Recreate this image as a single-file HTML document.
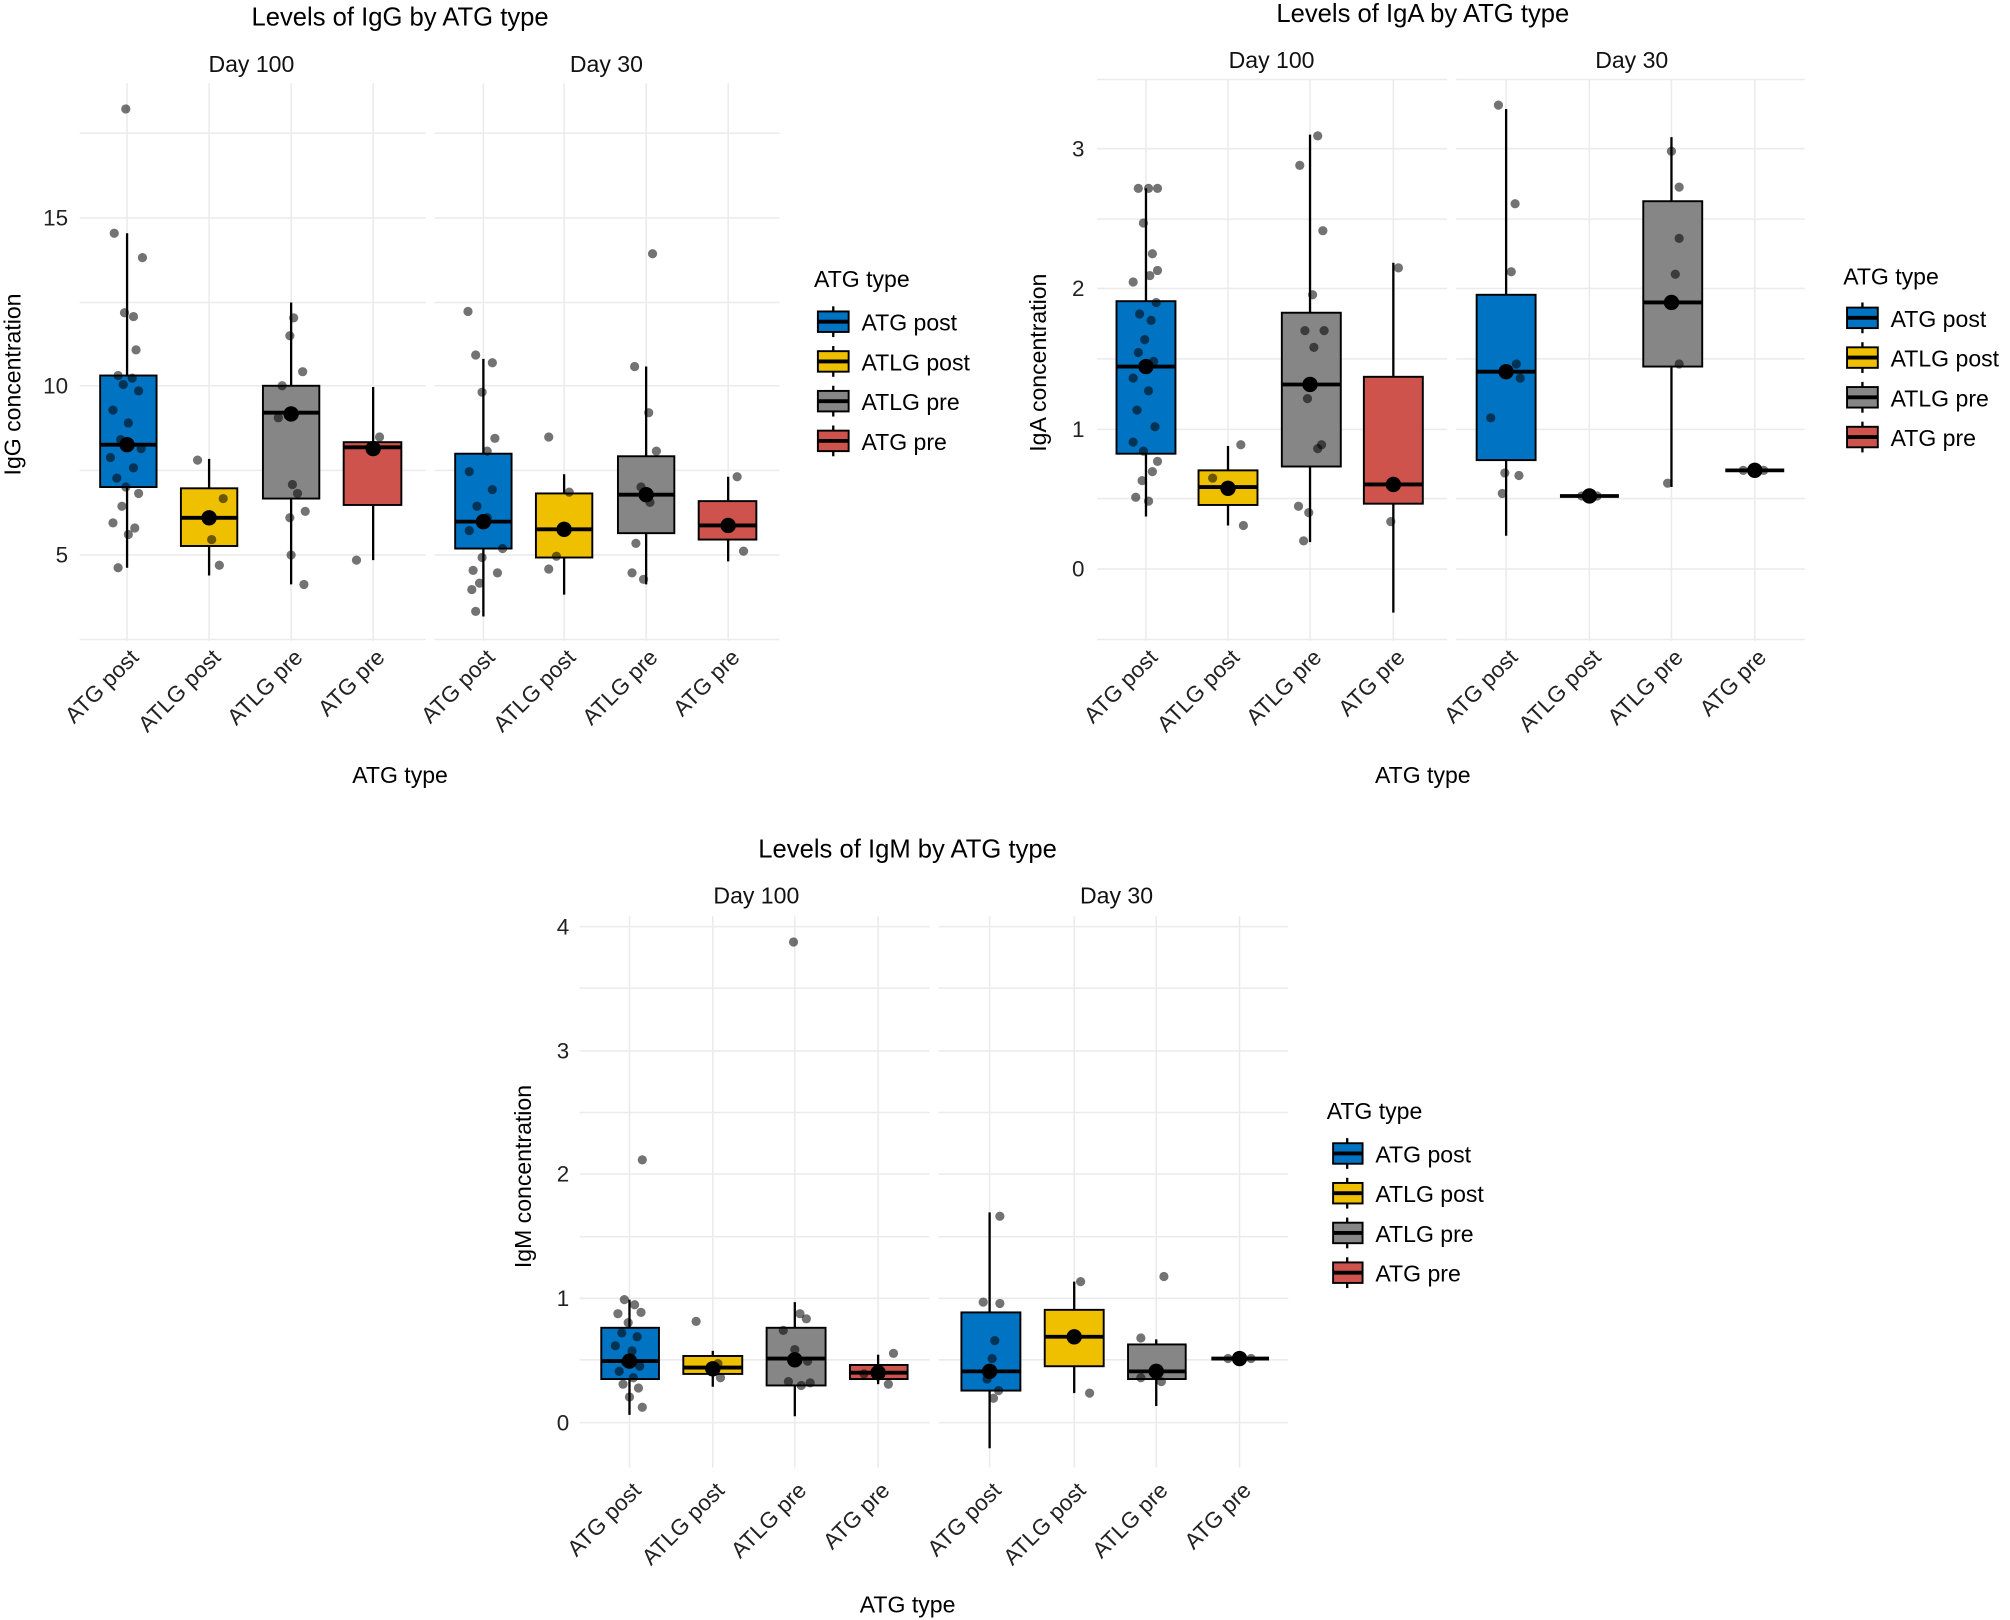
<!DOCTYPE html>
<html><head><meta charset="utf-8"><style>
html,body{margin:0;padding:0;background:#fff}
svg{display:block;font-family:"Liberation Sans",Arial,sans-serif}
.g{stroke:#ebebeb;stroke-width:1.2}
.t{font-size:20px;fill:#000}
.f{font-size:18px;fill:#111}
.k{font-size:17.5px;fill:#222}
.a{font-size:18px;fill:#000}
.l{font-size:18px;fill:#000}
.b{stroke:#000;stroke-width:1.5}
.m{stroke:#000;stroke-width:3}
.w{stroke:#000;stroke-width:1.8}
.p circle{fill:#000;fill-opacity:.55;r:3.6}
</style></head><body>
<svg width="2010" height="1620" viewBox="0 0 1568 1264" xmlns="http://www.w3.org/2000/svg">
<!-- ================= IgG ================= -->
<g>
<g class="g">
<line x1="62" x2="332" y1="104" y2="104"/><line x1="62" x2="332" y1="236" y2="236"/><line x1="62" x2="332" y1="367" y2="367"/><line x1="62" x2="332" y1="499" y2="499"/>
<line x1="62" x2="332" y1="170" y2="170"/><line x1="62" x2="332" y1="301" y2="301"/><line x1="62" x2="332" y1="433" y2="433"/>
<line x1="99" x2="99" y1="65" y2="500"/><line x1="163" x2="163" y1="65" y2="500"/><line x1="227" x2="227" y1="65" y2="500"/><line x1="291" x2="291" y1="65" y2="500"/>
<line x1="339" x2="608" y1="104" y2="104"/><line x1="339" x2="608" y1="236" y2="236"/><line x1="339" x2="608" y1="367" y2="367"/><line x1="339" x2="608" y1="499" y2="499"/>
<line x1="339" x2="608" y1="170" y2="170"/><line x1="339" x2="608" y1="301" y2="301"/><line x1="339" x2="608" y1="433" y2="433"/>
<line x1="377" x2="377" y1="65" y2="500"/><line x1="440" x2="440" y1="65" y2="500"/><line x1="504" x2="504" y1="65" y2="500"/><line x1="568" x2="568" y1="65" y2="500"/>
</g>
<text class="t" x="312" y="20" text-anchor="middle">Levels of IgG by ATG type</text>
<text class="f" x="196" y="56" text-anchor="middle">Day 100</text>
<text class="f" x="473" y="56" text-anchor="middle">Day 30</text>
<text class="k" x="53" y="176" text-anchor="end">15</text>
<text class="k" x="53" y="307" text-anchor="end">10</text>
<text class="k" x="53" y="439" text-anchor="end">5</text>
<text class="a" transform="translate(16,300) rotate(-90)" text-anchor="middle">IgG concentration</text>
<text class="a" x="312" y="611" text-anchor="middle">ATG type</text>
<g class="k">
<text transform="translate(109,514) rotate(-45)" text-anchor="end">ATG post</text>
<text transform="translate(173,514) rotate(-45)" text-anchor="end">ATLG post</text>
<text transform="translate(237,514) rotate(-45)" text-anchor="end">ATLG pre</text>
<text transform="translate(301,514) rotate(-45)" text-anchor="end">ATG pre</text>
<text transform="translate(387,514) rotate(-45)" text-anchor="end">ATG post</text>
<text transform="translate(450,514) rotate(-45)" text-anchor="end">ATLG post</text>
<text transform="translate(514,514) rotate(-45)" text-anchor="end">ATLG pre</text>
<text transform="translate(578,514) rotate(-45)" text-anchor="end">ATG pre</text>
</g>
<line class="w" x1="99" x2="99" y1="182" y2="443"/><rect class="b" x="78" y="293" width="44" height="87" fill="#0073C2"/><line class="m" x1="78" x2="122" y1="347" y2="347"/>
<line class="w" x1="163" x2="163" y1="358" y2="449"/><rect class="b" x="141" y="381" width="44" height="45" fill="#EFC000"/><line class="m" x1="141" x2="185" y1="404" y2="404"/>
<line class="w" x1="227" x2="227" y1="236" y2="456"/><rect class="b" x="205" y="301" width="44" height="88" fill="#868686"/><line class="m" x1="205" x2="249" y1="322" y2="322"/>
<line class="w" x1="291" x2="291" y1="302" y2="437"/><rect class="b" x="268" y="345" width="45" height="49" fill="#CD534C"/><line class="m" x1="268" x2="313" y1="349" y2="349"/>
<line class="w" x1="377" x2="377" y1="280" y2="481"/><rect class="b" x="355" y="354" width="44" height="74" fill="#0073C2"/><line class="m" x1="355" x2="399" y1="407" y2="407"/>
<line class="w" x1="440" x2="440" y1="370" y2="464"/><rect class="b" x="418" y="385" width="44" height="50" fill="#EFC000"/><line class="m" x1="418" x2="462" y1="413" y2="413"/>
<line class="w" x1="504" x2="504" y1="286" y2="456"/><rect class="b" x="482" y="356" width="44" height="60" fill="#868686"/><line class="m" x1="482" x2="526" y1="386" y2="386"/>
<line class="w" x1="568" x2="568" y1="372" y2="438"/><rect class="b" x="545" y="391" width="45" height="30" fill="#CD534C"/><line class="m" x1="545" x2="590" y1="410" y2="410"/>
<g class="p">
<circle cx="98" cy="85"/><circle cx="89" cy="182"/><circle cx="111" cy="201"/><circle cx="97" cy="244"/><circle cx="104" cy="247"/><circle cx="106" cy="273"/><circle cx="92" cy="293"/><circle cx="103" cy="295"/><circle cx="96" cy="300"/><circle cx="108" cy="305"/><circle cx="88" cy="320"/><circle cx="100" cy="330"/><circle cx="94" cy="343"/><circle cx="110" cy="350"/><circle cx="86" cy="357"/><circle cx="104" cy="365"/><circle cx="91" cy="373"/><circle cx="98" cy="380"/><circle cx="108" cy="385"/><circle cx="95" cy="395"/><circle cx="88" cy="408"/><circle cx="105" cy="412"/><circle cx="100" cy="417"/><circle cx="92" cy="443"/>
<circle cx="154" cy="359"/><circle cx="174" cy="389"/><circle cx="165" cy="421"/><circle cx="171" cy="441"/>
<circle cx="229" cy="248"/><circle cx="226" cy="262"/><circle cx="236" cy="290"/><circle cx="220" cy="301"/><circle cx="217" cy="326"/><circle cx="228" cy="378"/><circle cx="232" cy="385"/><circle cx="238" cy="399"/><circle cx="226" cy="404"/><circle cx="227" cy="433"/><circle cx="237" cy="456"/>
<circle cx="296" cy="341"/><circle cx="278" cy="437"/>
<circle cx="365" cy="243"/><circle cx="371" cy="277"/><circle cx="384" cy="283"/><circle cx="376" cy="306"/><circle cx="386" cy="342"/><circle cx="380" cy="352"/><circle cx="366" cy="368"/><circle cx="384" cy="382"/><circle cx="372" cy="395"/><circle cx="380" cy="404"/><circle cx="366" cy="414"/><circle cx="392" cy="428"/><circle cx="376" cy="435"/><circle cx="369" cy="445"/><circle cx="388" cy="447"/><circle cx="374" cy="455"/><circle cx="368" cy="460"/><circle cx="371" cy="477"/>
<circle cx="428" cy="341"/><circle cx="444" cy="384"/><circle cx="434" cy="434"/><circle cx="428" cy="444"/>
<circle cx="509" cy="198"/><circle cx="495" cy="286"/><circle cx="506" cy="322"/><circle cx="512" cy="352"/><circle cx="500" cy="380"/><circle cx="507" cy="392"/><circle cx="496" cy="424"/><circle cx="493" cy="447"/><circle cx="502" cy="452"/>
<circle cx="575" cy="372"/><circle cx="580" cy="430"/>
</g>
<g fill="#000"><circle cx="99" cy="347" r="6"/><circle cx="163" cy="404" r="6"/><circle cx="227" cy="323" r="6"/><circle cx="291" cy="350" r="6"/><circle cx="377" cy="407" r="6"/><circle cx="440" cy="413" r="6"/><circle cx="504" cy="386" r="6"/><circle cx="568" cy="410" r="6"/></g>
<text class="l" x="635" y="224">ATG type</text>
<g class="w"><line x1="650" x2="650" y1="239" y2="263"/><line x1="650" x2="650" y1="270" y2="294"/><line x1="650" x2="650" y1="301" y2="325"/><line x1="650" x2="650" y1="332" y2="356"/></g>
<rect class="b" x="638" y="243" width="24" height="16" fill="#0073C2"/><line class="m" x1="638" x2="662" y1="251" y2="251"/>
<rect class="b" x="638" y="274" width="24" height="16" fill="#EFC000"/><line class="m" x1="638" x2="662" y1="282" y2="282"/>
<rect class="b" x="638" y="305" width="24" height="16" fill="#868686"/><line class="m" x1="638" x2="662" y1="313" y2="313"/>
<rect class="b" x="638" y="336" width="24" height="16" fill="#CD534C"/><line class="m" x1="638" x2="662" y1="344" y2="344"/>
<text class="l" x="672" y="258">ATG post</text><text class="l" x="672" y="289">ATLG post</text><text class="l" x="672" y="320">ATLG pre</text><text class="l" x="672" y="351">ATG pre</text>
</g>

<!-- ================= IgA ================= -->
<g>
<g class="g">
<line x1="856" x2="1129" y1="116" y2="116"/><line x1="856" x2="1129" y1="225" y2="225"/><line x1="856" x2="1129" y1="335" y2="335"/><line x1="856" x2="1129" y1="444" y2="444"/>
<line x1="856" x2="1129" y1="171" y2="171"/><line x1="856" x2="1129" y1="280" y2="280"/><line x1="856" x2="1129" y1="389" y2="389"/><line x1="856" x2="1129" y1="499" y2="499"/><line x1="856" x2="1129" y1="62" y2="62"/>
<line x1="894" x2="894" y1="62" y2="500"/><line x1="958" x2="958" y1="62" y2="500"/><line x1="1022" x2="1022" y1="62" y2="500"/><line x1="1087" x2="1087" y1="62" y2="500"/>
<line x1="1136" x2="1408" y1="116" y2="116"/><line x1="1136" x2="1408" y1="225" y2="225"/><line x1="1136" x2="1408" y1="335" y2="335"/><line x1="1136" x2="1408" y1="444" y2="444"/>
<line x1="1136" x2="1408" y1="171" y2="171"/><line x1="1136" x2="1408" y1="280" y2="280"/><line x1="1136" x2="1408" y1="389" y2="389"/><line x1="1136" x2="1408" y1="499" y2="499"/><line x1="1136" x2="1408" y1="62" y2="62"/>
<line x1="1175" x2="1175" y1="62" y2="500"/><line x1="1240" x2="1240" y1="62" y2="500"/><line x1="1304" x2="1304" y1="62" y2="500"/><line x1="1369" x2="1369" y1="62" y2="500"/>
</g>
<text class="t" x="1110" y="17" text-anchor="middle">Levels of IgA by ATG type</text>
<text class="f" x="992" y="53" text-anchor="middle">Day 100</text>
<text class="f" x="1273" y="53" text-anchor="middle">Day 30</text>
<text class="k" x="846" y="122" text-anchor="end">3</text>
<text class="k" x="846" y="231" text-anchor="end">2</text>
<text class="k" x="846" y="341" text-anchor="end">1</text>
<text class="k" x="846" y="450" text-anchor="end">0</text>
<text class="a" transform="translate(816,283) rotate(-90)" text-anchor="middle">IgA concentration</text>
<text class="a" x="1110" y="611" text-anchor="middle">ATG type</text>
<g class="k">
<text transform="translate(904,514) rotate(-45)" text-anchor="end">ATG post</text>
<text transform="translate(968,514) rotate(-45)" text-anchor="end">ATLG post</text>
<text transform="translate(1032,514) rotate(-45)" text-anchor="end">ATLG pre</text>
<text transform="translate(1097,514) rotate(-45)" text-anchor="end">ATG pre</text>
<text transform="translate(1185,514) rotate(-45)" text-anchor="end">ATG post</text>
<text transform="translate(1250,514) rotate(-45)" text-anchor="end">ATLG post</text>
<text transform="translate(1314,514) rotate(-45)" text-anchor="end">ATLG pre</text>
<text transform="translate(1379,514) rotate(-45)" text-anchor="end">ATG pre</text>
</g>
<line class="w" x1="894" x2="894" y1="147" y2="403"/><rect class="b" x="871" y="235" width="46" height="119" fill="#0073C2"/><line class="m" x1="871" x2="917" y1="286" y2="286"/>
<line class="w" x1="958" x2="958" y1="348" y2="410"/><rect class="b" x="935" y="367" width="46" height="27" fill="#EFC000"/><line class="m" x1="935" x2="981" y1="380" y2="380"/>
<line class="w" x1="1022" x2="1022" y1="105" y2="423"/><rect class="b" x="1000" y="244" width="46" height="120" fill="#868686"/><line class="m" x1="1000" x2="1046" y1="300" y2="300"/>
<line class="w" x1="1087" x2="1087" y1="205" y2="478"/><rect class="b" x="1064" y="294" width="46" height="99" fill="#CD534C"/><line class="m" x1="1064" x2="1110" y1="378" y2="378"/>
<line class="w" x1="1175" x2="1175" y1="85" y2="418"/><rect class="b" x="1152" y="230" width="46" height="129" fill="#0073C2"/><line class="m" x1="1152" x2="1198" y1="290" y2="290"/>
<line class="m" x1="1217" x2="1263" y1="387" y2="387"/>
<line class="w" x1="1304" x2="1304" y1="107" y2="380"/><rect class="b" x="1282" y="157" width="46" height="129" fill="#868686"/><line class="m" x1="1282" x2="1328" y1="236" y2="236"/>
<line class="m" x1="1346" x2="1392" y1="367" y2="367"/>
<g class="p">
<circle cx="888" cy="147"/><circle cx="896" cy="147"/><circle cx="903" cy="147"/><circle cx="892" cy="174"/><circle cx="899" cy="198"/><circle cx="903" cy="211"/><circle cx="897" cy="215"/><circle cx="884" cy="220"/><circle cx="902" cy="236"/><circle cx="889" cy="245"/><circle cx="898" cy="250"/><circle cx="893" cy="265"/><circle cx="888" cy="275"/><circle cx="900" cy="282"/><circle cx="884" cy="295"/><circle cx="896" cy="305"/><circle cx="887" cy="320"/><circle cx="901" cy="333"/><circle cx="884" cy="345"/><circle cx="892" cy="352"/><circle cx="903" cy="360"/><circle cx="899" cy="368"/><circle cx="891" cy="375"/><circle cx="886" cy="388"/><circle cx="896" cy="391"/>
<circle cx="946" cy="373"/><circle cx="968" cy="347"/><circle cx="970" cy="410"/>
<circle cx="1014" cy="129"/><circle cx="1028" cy="106"/><circle cx="1032" cy="180"/><circle cx="1024" cy="230"/><circle cx="1018" cy="258"/><circle cx="1033" cy="258"/><circle cx="1025" cy="271"/><circle cx="1020" cy="311"/><circle cx="1031" cy="347"/><circle cx="1028" cy="350"/><circle cx="1013" cy="395"/><circle cx="1021" cy="400"/><circle cx="1017" cy="422"/>
<circle cx="1091" cy="209"/><circle cx="1085" cy="407"/>
<circle cx="1169" cy="82"/><circle cx="1182" cy="159"/><circle cx="1179" cy="212"/><circle cx="1183" cy="284"/><circle cx="1186" cy="295"/><circle cx="1163" cy="326"/><circle cx="1174" cy="369"/><circle cx="1185" cy="371"/><circle cx="1172" cy="385"/>
<circle cx="1234" cy="387"/><circle cx="1246" cy="387"/>
<circle cx="1304" cy="118"/><circle cx="1310" cy="146"/><circle cx="1310" cy="186"/><circle cx="1307" cy="214"/><circle cx="1310" cy="284"/><circle cx="1301" cy="377"/>
<circle cx="1360" cy="367"/><circle cx="1376" cy="367"/>
</g>
<g fill="#000"><circle cx="894" cy="286" r="6"/><circle cx="958" cy="381" r="6"/><circle cx="1022" cy="300" r="6"/><circle cx="1087" cy="378" r="6"/><circle cx="1175" cy="290" r="6"/><circle cx="1240" cy="387" r="6"/><circle cx="1304" cy="236" r="6"/><circle cx="1369" cy="367" r="6"/></g>
<text class="l" x="1438" y="222">ATG type</text>
<g class="w"><line x1="1453" x2="1453" y1="236" y2="260"/><line x1="1453" x2="1453" y1="267" y2="291"/><line x1="1453" x2="1453" y1="298" y2="322"/><line x1="1453" x2="1453" y1="329" y2="353"/></g>
<rect class="b" x="1441" y="240" width="24" height="16" fill="#0073C2"/><line class="m" x1="1441" x2="1465" y1="248" y2="248"/>
<rect class="b" x="1441" y="271" width="24" height="16" fill="#EFC000"/><line class="m" x1="1441" x2="1465" y1="279" y2="279"/>
<rect class="b" x="1441" y="302" width="24" height="16" fill="#868686"/><line class="m" x1="1441" x2="1465" y1="310" y2="310"/>
<rect class="b" x="1441" y="333" width="24" height="16" fill="#CD534C"/><line class="m" x1="1441" x2="1465" y1="341" y2="341"/>
<text class="l" x="1475" y="255">ATG post</text><text class="l" x="1475" y="286">ATLG post</text><text class="l" x="1475" y="317">ATLG pre</text><text class="l" x="1475" y="348">ATG pre</text>
</g>

<!-- ================= IgM ================= -->
<g>
<g class="g">
<line x1="452" x2="725" y1="723" y2="723"/><line x1="452" x2="725" y1="820" y2="820"/><line x1="452" x2="725" y1="916" y2="916"/><line x1="452" x2="725" y1="1013" y2="1013"/><line x1="452" x2="725" y1="1110" y2="1110"/>
<line x1="452" x2="725" y1="771" y2="771"/><line x1="452" x2="725" y1="868" y2="868"/><line x1="452" x2="725" y1="965" y2="965"/><line x1="452" x2="725" y1="1061" y2="1061"/>
<line x1="491" x2="491" y1="715" y2="1145"/><line x1="556" x2="556" y1="715" y2="1145"/><line x1="620" x2="620" y1="715" y2="1145"/><line x1="685" x2="685" y1="715" y2="1145"/>
<line x1="732" x2="1005" y1="723" y2="723"/><line x1="732" x2="1005" y1="820" y2="820"/><line x1="732" x2="1005" y1="916" y2="916"/><line x1="732" x2="1005" y1="1013" y2="1013"/><line x1="732" x2="1005" y1="1110" y2="1110"/>
<line x1="732" x2="1005" y1="771" y2="771"/><line x1="732" x2="1005" y1="868" y2="868"/><line x1="732" x2="1005" y1="965" y2="965"/><line x1="732" x2="1005" y1="1061" y2="1061"/>
<line x1="772" x2="772" y1="715" y2="1145"/><line x1="838" x2="838" y1="715" y2="1145"/><line x1="902" x2="902" y1="715" y2="1145"/><line x1="967" x2="967" y1="715" y2="1145"/>
</g>
<text class="t" x="708" y="669" text-anchor="middle">Levels of IgM by ATG type</text>
<text class="f" x="590" y="705" text-anchor="middle">Day 100</text>
<text class="f" x="871" y="705" text-anchor="middle">Day 30</text>
<text class="k" x="444" y="729" text-anchor="end">4</text>
<text class="k" x="444" y="826" text-anchor="end">3</text>
<text class="k" x="444" y="922" text-anchor="end">2</text>
<text class="k" x="444" y="1019" text-anchor="end">1</text>
<text class="k" x="444" y="1116" text-anchor="end">0</text>
<text class="a" transform="translate(414,918) rotate(-90)" text-anchor="middle">IgM concentration</text>
<text class="a" x="708" y="1258" text-anchor="middle">ATG type</text>
<g class="k">
<text transform="translate(501,1164) rotate(-45)" text-anchor="end">ATG post</text>
<text transform="translate(566,1164) rotate(-45)" text-anchor="end">ATLG post</text>
<text transform="translate(630,1164) rotate(-45)" text-anchor="end">ATLG pre</text>
<text transform="translate(695,1164) rotate(-45)" text-anchor="end">ATG pre</text>
<text transform="translate(782,1164) rotate(-45)" text-anchor="end">ATG post</text>
<text transform="translate(848,1164) rotate(-45)" text-anchor="end">ATLG post</text>
<text transform="translate(912,1164) rotate(-45)" text-anchor="end">ATLG pre</text>
<text transform="translate(977,1164) rotate(-45)" text-anchor="end">ATG pre</text>
</g>
<line class="w" x1="491" x2="491" y1="1014" y2="1104"/><rect class="b" x="469" y="1036" width="45" height="40" fill="#0073C2"/><line class="m" x1="469" x2="514" y1="1062" y2="1062"/>
<line class="w" x1="556" x2="556" y1="1054" y2="1082"/><rect class="b" x="533" y="1058" width="46" height="14" fill="#EFC000"/><line class="m" x1="533" x2="579" y1="1067" y2="1067"/>
<line class="w" x1="620" x2="620" y1="1016" y2="1105"/><rect class="b" x="598" y="1036" width="46" height="45" fill="#868686"/><line class="m" x1="598" x2="644" y1="1060" y2="1060"/>
<line class="w" x1="685" x2="685" y1="1057" y2="1080"/><rect class="b" x="663" y="1065" width="45" height="11" fill="#CD534C"/><line class="m" x1="663" x2="708" y1="1071" y2="1071"/>
<line class="w" x1="772" x2="772" y1="946" y2="1130"/><rect class="b" x="750" y="1024" width="46" height="61" fill="#0073C2"/><line class="m" x1="750" x2="796" y1="1070" y2="1070"/>
<line class="w" x1="838" x2="838" y1="1000" y2="1087"/><rect class="b" x="815" y="1022" width="46" height="44" fill="#EFC000"/><line class="m" x1="815" x2="861" y1="1043" y2="1043"/>
<line class="w" x1="902" x2="902" y1="1045" y2="1097"/><rect class="b" x="880" y="1049" width="45" height="27" fill="#868686"/><line class="m" x1="880" x2="925" y1="1070" y2="1070"/>
<line class="m" x1="945" x2="990" y1="1060" y2="1060"/>
<g class="p">
<circle cx="501" cy="905"/><circle cx="487" cy="1014"/><circle cx="495" cy="1018"/><circle cx="482" cy="1025"/><circle cx="500" cy="1024"/><circle cx="490" cy="1032"/><circle cx="485" cy="1040"/><circle cx="497" cy="1043"/><circle cx="480" cy="1050"/><circle cx="493" cy="1054"/><circle cx="488" cy="1063"/><circle cx="499" cy="1066"/><circle cx="483" cy="1070"/><circle cx="494" cy="1075"/><circle cx="486" cy="1080"/><circle cx="498" cy="1083"/><circle cx="491" cy="1090"/><circle cx="501" cy="1098"/>
<circle cx="543" cy="1031"/><circle cx="560" cy="1064"/><circle cx="562" cy="1075"/>
<circle cx="619" cy="735"/><circle cx="624" cy="1025"/><circle cx="629" cy="1029"/><circle cx="611" cy="1038"/><circle cx="620" cy="1053"/><circle cx="630" cy="1062"/><circle cx="615" cy="1078"/><circle cx="625" cy="1081"/><circle cx="632" cy="1079"/>
<circle cx="697" cy="1056"/><circle cx="693" cy="1080"/><circle cx="674" cy="1072"/>
<circle cx="780" cy="949"/><circle cx="767" cy="1016"/><circle cx="780" cy="1017"/><circle cx="776" cy="1046"/><circle cx="774" cy="1060"/><circle cx="770" cy="1076"/><circle cx="779" cy="1085"/><circle cx="775" cy="1091"/>
<circle cx="843" cy="1000"/><circle cx="850" cy="1087"/>
<circle cx="908" cy="996"/><circle cx="890" cy="1044"/><circle cx="890" cy="1075"/><circle cx="906" cy="1078"/>
<circle cx="958" cy="1060"/><circle cx="976" cy="1060"/>
</g>
<g fill="#000"><circle cx="491" cy="1062" r="6"/><circle cx="556" cy="1068" r="6"/><circle cx="620" cy="1061" r="6"/><circle cx="685" cy="1071" r="6"/><circle cx="772" cy="1070" r="6"/><circle cx="838" cy="1043" r="6"/><circle cx="902" cy="1070" r="6"/><circle cx="967" cy="1060" r="6"/></g>
<text class="l" x="1035" y="873">ATG type</text>
<g class="w"><line x1="1051" x2="1051" y1="888" y2="912"/><line x1="1051" x2="1051" y1="919" y2="943"/><line x1="1051" x2="1051" y1="950" y2="974"/><line x1="1051" x2="1051" y1="981" y2="1005"/></g>
<rect class="b" x="1040" y="892" width="23" height="16" fill="#0073C2"/><line class="m" x1="1040" x2="1063" y1="900" y2="900"/>
<rect class="b" x="1040" y="923" width="23" height="16" fill="#EFC000"/><line class="m" x1="1040" x2="1063" y1="931" y2="931"/>
<rect class="b" x="1040" y="954" width="23" height="16" fill="#868686"/><line class="m" x1="1040" x2="1063" y1="962" y2="962"/>
<rect class="b" x="1040" y="985" width="23" height="16" fill="#CD534C"/><line class="m" x1="1040" x2="1063" y1="993" y2="993"/>
<text class="l" x="1073" y="907">ATG post</text><text class="l" x="1073" y="938">ATLG post</text><text class="l" x="1073" y="969">ATLG pre</text><text class="l" x="1073" y="1000">ATG pre</text>
</g>
</svg>
</body></html>
